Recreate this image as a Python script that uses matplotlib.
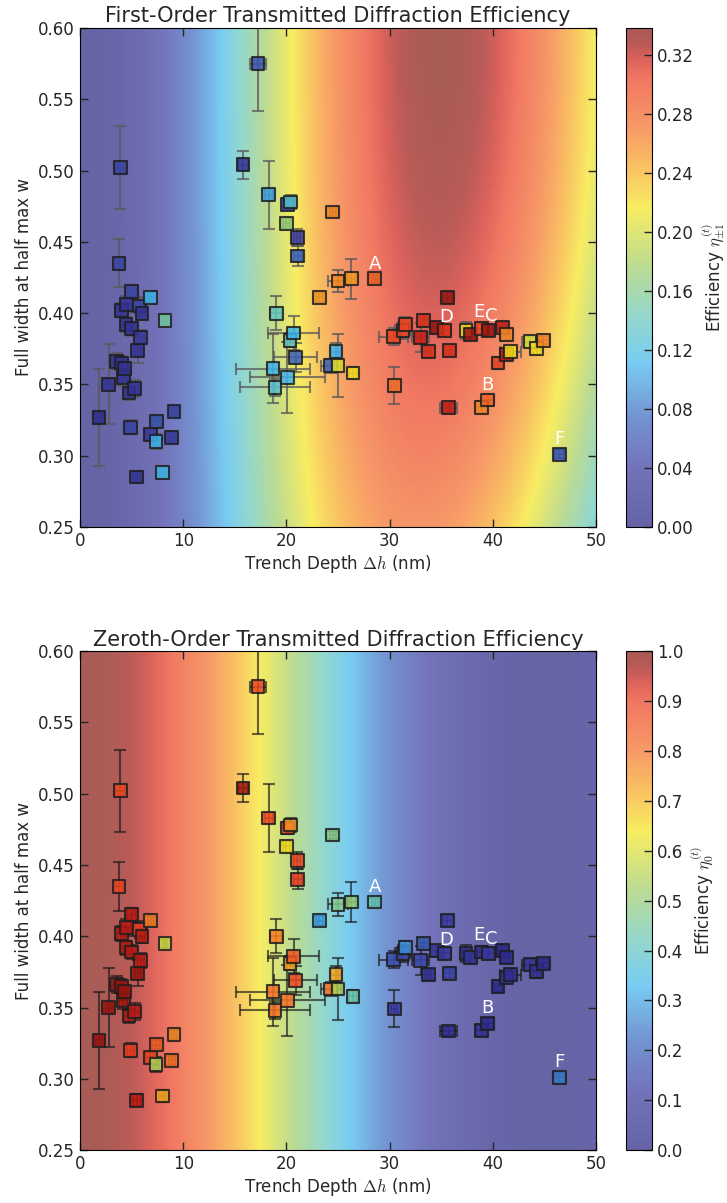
import numpy as np
import matplotlib
matplotlib.use("Agg")
import matplotlib.pyplot as plt
from matplotlib.colors import LinearSegmentedColormap

# measured gratings: trench depth (nm), FWHM w, their errors, and the measured efficiencies
depth = [1.84, 2.8, 3.55, 3.78, 3.9, 4.0, 4.0, 4.2, 4.3, 4.46, 4.5, 4.75, 4.9, 5.0, 5.0,
         5.3, 5.5, 5.6, 5.8, 5.9, 6.0, 6.8, 6.85, 7.36, 7.4, 8.0, 8.24, 8.9, 9.1,
         15.8, 17.25, 18.3, 18.7, 18.9, 19.0, 20.0, 20.1, 20.1, 20.35, 20.4, 20.7, 20.9,
         21.05, 21.1, 23.2, 24.3, 24.5, 24.8, 25.0, 25.0, 26.3, 26.45, 28.55,
         30.4, 30.45, 31.3, 31.5, 33.0, 33.3, 33.75, 34.5, 35.3, 35.6, 35.7, 35.8,
         37.4, 37.8, 38.9, 38.9, 39.5, 39.6, 40.5, 40.9, 41.3, 41.3, 41.7, 43.6,
         44.25, 44.9, 46.45]
width = [0.327, 0.350, 0.366, 0.435, 0.502, 0.402, 0.365, 0.355, 0.361, 0.392, 0.406,
         0.344, 0.320, 0.415, 0.389, 0.347, 0.285, 0.374, 0.405, 0.383, 0.400, 0.315,
         0.411, 0.310, 0.324, 0.288, 0.395, 0.313, 0.331,
         0.504, 0.575, 0.483, 0.361, 0.348, 0.400, 0.463, 0.476, 0.355, 0.381, 0.478,
         0.386, 0.369, 0.453, 0.440, 0.411, 0.363, 0.471, 0.373, 0.4225, 0.363, 0.424,
         0.358, 0.424,
         0.3835, 0.349, 0.388, 0.392, 0.383, 0.395, 0.373, 0.390, 0.388, 0.411, 0.3335,
         0.374, 0.388, 0.385, 0.389, 0.334, 0.339, 0.388, 0.365, 0.390, 0.385, 0.371,
         0.373, 0.380, 0.375, 0.381, 0.301]
depth_err = [0.3, 0.3, 0.4, 0.4, 0.5, 0.4, 0.4, 0.4, 0.4, 0.4, 0.4, 0.4, 0.3, 0.4, 0.4,
             0.4, 0.4, 0.3, 0.4, 0.3, 0.3, 0.4, 0.3, 0.3, 0.4, 0.3, 0.2, 0.3, 0.3,
             0.5, 0.8, 0.4, 3.6, 3.4, 0.6, 0.3, 0.5, 3.6, 0.5, 0.5, 2.5, 2.1,
             0.3, 0.4, 0.3, 1.0, 0.3, 0.5, 1.0, 0.4, 0.4, 0.4, 0.3,
             1.4, 0.3, 0.8, 0.5, 0.8, 0.4, 0.3, 0.4, 0.6, 0.4, 0.8, 0.5,
             0.4, 0.5, 0.4, 0.5, 0.6, 0.4, 0.4, 0.4, 0.4, 0.4, 1.0, 0.8,
             0.4, 0.5, 0.4]
width_err = [0.034, 0.028, 0.006, 0.017, 0.029, 0.005, 0.005, 0.006, 0.005, 0.005, 0.006,
             0.005, 0.005, 0.005, 0.005, 0.006, 0.004, 0.009, 0.006, 0.005, 0.005, 0.004,
             0.003, 0.005, 0.003, 0.004, 0.003, 0.003, 0.003,
             0.010, 0.033, 0.024, 0.024, 0.006, 0.012, 0.004, 0.004, 0.025, 0.005, 0.005,
             0.012, 0.010, 0.006, 0.007, 0.003, 0.005, 0.003, 0.006, 0.008, 0.022, 0.014,
             0.004, 0.003,
             0.006, 0.013, 0.006, 0.005, 0.010, 0.004, 0.004, 0.004, 0.004, 0.004, 0.003,
             0.003, 0.006, 0.004, 0.004, 0.004, 0.004, 0.004, 0.004, 0.004, 0.004, 0.004,
             0.004, 0.004, 0.004, 0.003, 0.003]
eta_first = [0.02, 0.03, 0.03, 0.05, 0.05, 0.03, 0.03, 0.03, 0.03, 0.03, 0.03, 0.03, 0.05,
             0.05, 0.03, 0.03, 0.03, 0.03, 0.05, 0.04, 0.03, 0.04, 0.11, 0.11, 0.06, 0.11,
             0.15, 0.04, 0.05,
             0.03, 0.06, 0.10, 0.11, 0.13, 0.14, 0.17, 0.06, 0.11, 0.14, 0.13, 0.11, 0.07,
             0.04, 0.07, 0.25, 0.07, 0.26, 0.11, 0.26, 0.21, 0.25, 0.22, 0.28,
             0.30, 0.27, 0.30, 0.30, 0.32, 0.31, 0.31, 0.33, 0.31, 0.33, 0.32, 0.31,
             0.22, 0.33, 0.30, 0.26, 0.28, 0.33, 0.30, 0.32, 0.26, 0.32, 0.22, 0.20,
             0.22, 0.26, 0.06]
eta_zero = [0.97, 0.97, 0.97, 0.88, 0.88, 0.95, 0.97, 0.97, 0.97, 0.95, 0.95, 0.95, 0.90,
            0.95, 0.95, 0.95, 0.95, 0.97, 0.90, 0.95, 0.95, 0.88, 0.78, 0.55, 0.83, 0.72,
            0.58, 0.80, 0.76,
            0.97, 0.88, 0.88, 0.80, 0.80, 0.78, 0.65, 0.88, 0.80, 0.73, 0.75, 0.85, 0.88,
            0.88, 0.90, 0.30, 0.80, 0.48, 0.72, 0.47, 0.55, 0.50, 0.43, 0.42,
            0.17, 0.12, 0.15, 0.28, 0.15, 0.20, 0.08, 0.12, 0.12, 0.13, 0.06, 0.15,
            0.08, 0.10, 0.06, 0.08, 0.05, 0.12, 0.06, 0.05, 0.06, 0.10, 0.07, 0.10,
            0.08, 0.06, 0.25]

# labelled samples: letter -> index into the arrays above
label_names = ["A", "B", "C", "D", "E", "F"]
label_index = [52, 69, 70, 61, 67, 79]
label_offset = [(0, 11), (0, 11), (1.5, 10.5), (1.5, 9.5), (-2, 12), (0, 11)]

# colour map anchors (before the alpha wash of the background)
cmap_pos = [0.0, 0.12, 0.22, 0.33, 0.42, 0.52, 0.64, 0.72, 0.80, 0.90, 0.94, 0.97, 1.0]
cmap_rgb = [(0.14, 0.13, 0.50), (0.22, 0.22, 0.62), (0.22, 0.40, 0.75), (0.25, 0.72, 0.93),
            (0.40, 0.78, 0.72), (0.62, 0.80, 0.40), (0.96, 0.90, 0.12), (0.97, 0.66, 0.12),
            (0.96, 0.44, 0.15), (0.92, 0.24, 0.12), (0.80, 0.12, 0.08), (0.62, 0.08, 0.06),
            (0.52, 0.08, 0.05)]
cmap = LinearSegmentedColormap.from_list("eff", list(zip(cmap_pos, cmap_rgb)))


def bessel_j(n, z):
    tau = np.linspace(0, np.pi, 300)
    return np.trapezoid(np.cos(n * tau - z[..., None] * np.sin(tau)), tau, axis=-1) / np.pi


# theory surfaces for the background
dh = np.linspace(0, 50, 250)
ww = np.linspace(0.25, 0.60, 140)
DH, WW = np.meshgrid(dh, ww)
k1 = 0.0526 + 0.0038 * ((0.60 - WW) / 0.35) ** 2
theory_first = (1 - 1.5 * (0.60 - WW) ** 2) * bessel_j(1, k1 * DH) ** 2
theory_zero = bessel_j(0, 0.053 * DH) ** 2

plt.rcParams["font.family"] = "DejaVu Sans"
plt.rcParams["mathtext.fontset"] = "cm"
plt.rcParams["font.size"] = 12
plt.rcParams["text.color"] = "0.15"
plt.rcParams["axes.labelcolor"] = "0.15"
plt.rcParams["xtick.color"] = "0.15"
plt.rcParams["ytick.color"] = "0.15"

fig = plt.figure(figsize=(7.27, 12.03), dpi=100)

panels = [
    (0.562, theory_first, eta_first, 0.3386, "First-Order Transmitted Diffraction Efficiency",
     r"Efficiency $\eta_{\pm1}^{(t)}$", np.arange(0, 0.33, 0.04), "%.2f", (0.35, 0.35, 0.35), 0.75),
    (0.044, theory_zero, eta_zero, 1.0, "Zeroth-Order Transmitted Diffraction Efficiency",
     r"Efficiency $\eta_0^{(t)}$", np.arange(0, 1.01, 0.1), "%.1f", (0.1, 0.1, 0.1), 0.65),
]

for bottom, field, values, vmax, title, clabel, cticks, cfmt, ecol, ealpha in panels:
    ax = fig.add_axes([0.110, bottom, 0.710, 0.4147])
    cax = fig.add_axes([0.861, bottom, 0.036, 0.4147])

    im = ax.imshow(field, extent=[0, 50, 0.25, 0.60], origin="lower", aspect="auto",
                   cmap=cmap, vmin=0, vmax=vmax, alpha=0.7, interpolation="bilinear")
    ax.errorbar(depth, width, xerr=depth_err, yerr=width_err, fmt="none",
                ecolor=ecol, alpha=ealpha, elinewidth=1.5, capsize=4, capthick=1.5, zorder=2)
    ax.scatter(depth, width, c=values, cmap=cmap, vmin=0, vmax=vmax, marker="s", s=85,
               edgecolors="0.12", linewidths=1.5, alpha=0.85, zorder=3)

    for name, i, off in zip(label_names, label_index, label_offset):
        ax.annotate(name, (depth[i], width[i]), xytext=off, textcoords="offset points",
                    ha="center", va="center", color="white", fontsize=13, zorder=4)

    ax.set_xlim(0, 50)
    ax.set_ylim(0.25, 0.60)
    ax.set_xticks(np.arange(0, 51, 10))
    ax.set_yticks(np.arange(0.25, 0.601, 0.05))
    ax.yaxis.set_major_formatter(matplotlib.ticker.FormatStrFormatter("%.2f"))
    ax.tick_params(direction="in", top=True, right=True, length=6, width=1)
    ax.set_title(title, fontsize=15, pad=4)
    ax.set_xlabel(r"Trench Depth $\Delta h$ (nm)", labelpad=2)
    ax.set_ylabel("Full width at half max w")

    cb = fig.colorbar(im, cax=cax)
    cb.set_ticks(cticks)
    cb.ax.yaxis.set_major_formatter(matplotlib.ticker.FormatStrFormatter(cfmt))
    cb.ax.tick_params(direction="in", length=6, width=1)
    cb.set_label(clabel)

fig.savefig("out.png", dpi=100)
